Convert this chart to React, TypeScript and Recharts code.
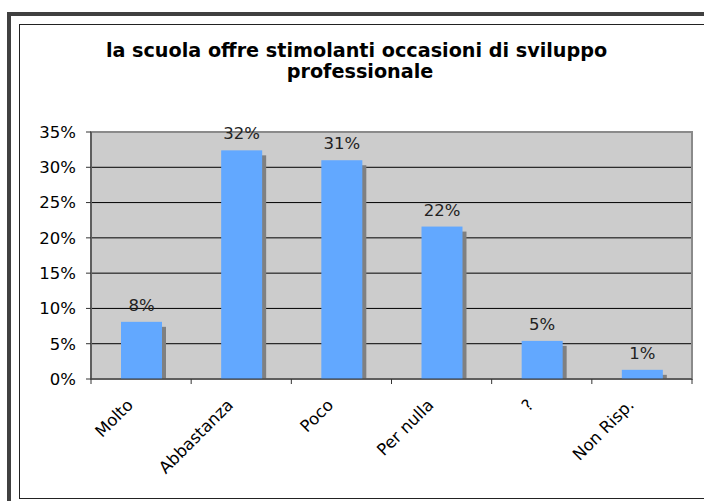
import React from 'react'
import { BarChart, Bar, XAxis, YAxis, CartesianGrid, LabelList, ReferenceArea } from 'recharts'

const categories = ['Molto', 'Abbastanza', 'Poco', 'Per nulla', '?', 'Non Risp.']
const values = [8.1, 32.4, 31.0, 21.6, 5.4, 1.3]
const yTicks = [0, 5, 10, 15, 20, 25, 30, 35]
const title1 = 'la scuola offre stimolanti occasioni di sviluppo'
const title2 = 'professionale'

const FONT = '"DejaVu Sans", Verdana, sans-serif'

const ShadowBar = (props: any) => {
  const { x, y, width, height, fill } = props
  return (
    <g>
      <rect x={x + 4} y={y + 5} width={width} height={Math.max(0, height - 5)} fill="#808080" />
      <rect x={x} y={y} width={width} height={height} fill={fill} />
    </g>
  )
}

const SlantTick = (props: any) => {
  const { x, y, payload, index, visibleTicksCount } = props
  const half = payload && payload.offset ? payload.offset : 0
  const last = index === (visibleTicksCount ?? categories.length) - 1
  return (
    <g>
      <line x1={x - half} x2={x - half} y1={y} y2={y + 5} stroke="#333" />
      {last && <line x1={x + half} x2={x + half} y1={y} y2={y + 5} stroke="#333" />}
      <g transform={`translate(${x - 7},${y + 27}) rotate(-45)`}>
        <text x={0} y={0} textAnchor="end" fontFamily={FONT} fontSize={16.5} fill="#000">{payload.value}</text>
      </g>
    </g>
  )
}

export default function App() {
  const data = categories.map((c, i) => ({ name: c, v: values[i] }))
  return (
    <div style={{ position: 'absolute', left: 0, top: 0, width: 704, height: 501, overflow: 'hidden', background: '#fff' }}>
      <div style={{ position: 'absolute', left: 7, top: 12, width: 740, height: 540, border: '4px solid #404040' }} />
      <div style={{ position: 'absolute', left: 19, top: 24, width: 720, height: 473, border: '1px solid #222' }} />
      <div style={{ position: 'absolute', left: 0, top: 40, width: 720, textAlign: 'center', fontFamily: FONT, fontWeight: 'bold', fontSize: 19.2, lineHeight: '21px', color: '#000' }}>
        <div style={{ paddingRight: 7 }}>{title1}</div>
        <div>{title2}</div>
      </div>
      <div style={{ position: 'absolute', left: 0, top: 0 }}>
        <BarChart width={704} height={501} data={data} margin={{ top: 132, right: 12, bottom: 0, left: 0 }}>
          <CartesianGrid vertical={false} stroke="#000" fill="#cccccc" fillOpacity={1} />
          <ReferenceArea x1={categories[0]} x2={categories[categories.length - 1]} y1={0} y2={35}
            fill="none" stroke="#8a8a8a" strokeWidth={2} />
          <XAxis dataKey="name" height={122} axisLine={{ stroke: '#333' }} tickLine={false} tickSize={0} tickMargin={0}
            tick={<SlantTick />} interval={0} />
          <YAxis width={91} domain={[0, 35]} ticks={yTicks} tickFormatter={(v: number) => `${v}%`}
            tickSize={5} tickMargin={10} axisLine={{ stroke: '#333' }} tickLine={{ stroke: '#333' }}
            tick={{ fontFamily: FONT, fontSize: 16.5, fill: '#000' }} />
          <Bar dataKey="v" barSize={41} fill="#62a8ff" shape={<ShadowBar />} isAnimationActive={false}>
            <LabelList dataKey="v" position="top" offset={11} formatter={(v: any) => `${Math.round(Number(v))}%`}
              style={{ fontFamily: FONT, fontSize: 16.5, fill: '#222' }} />
          </Bar>
        </BarChart>
      </div>
    </div>
  )
}
